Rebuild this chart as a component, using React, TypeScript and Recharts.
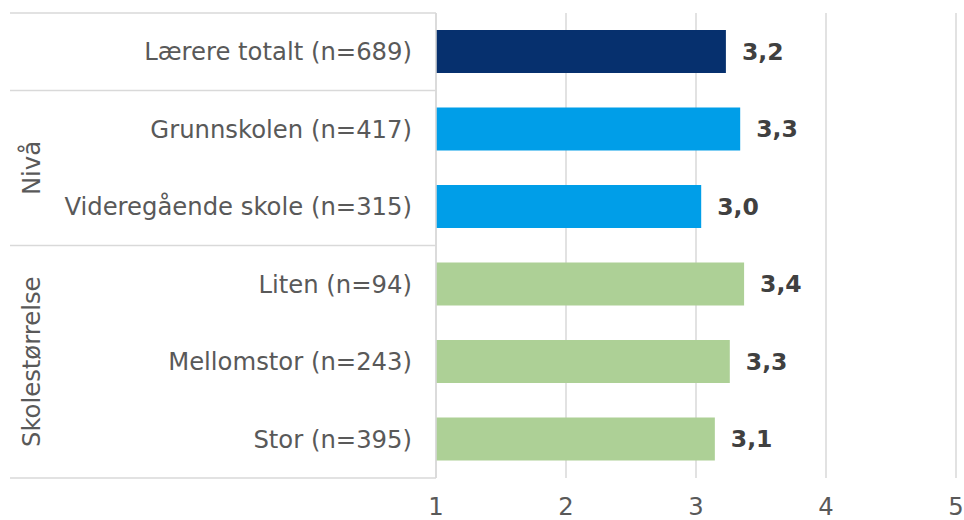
import { BarChart, Bar, XAxis, YAxis, CartesianGrid, Cell, LabelList } from 'recharts'

const CATEGORIES = [
  'Lærere totalt (n=689)',
  'Grunnskolen (n=417)',
  'Videregående skole (n=315)',
  'Liten (n=94)',
  'Mellomstor (n=243)',
  'Stor (n=395)',
]
const VALUES = [3.23, 3.34, 3.04, 3.37, 3.26, 3.145]
const COLORS = ['#06306E', '#009EE8', '#009EE8', '#ADD096', '#ADD096', '#ADD096']
const X_TICKS = [1, 2, 3, 4, 5]

// grupper på venstre side: første indeks + antall rader
const GROUPS = [
  { label: '', start: 0, count: 1 },
  { label: 'Nivå', start: 1, count: 2 },
  { label: 'Skolestørrelse', start: 3, count: 3 },
]

const data = CATEGORIES.map((name, i) => ({ name, value: VALUES[i] }))

const W = 964
const H = 520
const TOP = 13
const BOTTOM_AXIS = 42
const Y_WIDTH = 436
const ROW_H = (H - TOP - BOTTOM_AXIS) / CATEGORIES.length
const LINE = '#d9d9d9'
const TEXT = '#595959'
const FONT = 'DejaVu Sans, Verdana, sans-serif'
const FS = 24.3

// eslint-disable-next-line @typescript-eslint/no-explicit-any
function CategoryTick({ y, payload, index }: any) {
  const group = GROUPS.find(g => g.start === index)
  const top = y - ROW_H / 2
  const isLast = index === CATEGORIES.length - 1
  const gy = group ? top + (group.count * ROW_H) / 2 : 0
  return (
    <g>
      <text x={Y_WIDTH - 24} y={y} dy="0.355em" textAnchor="end" fontSize={FS} fill={TEXT} fontFamily={FONT}>
        {payload.value}
      </text>
      {group && <line x1={10} x2={Y_WIDTH} y1={top} y2={top} stroke={LINE} strokeWidth={1.5} />}
      {isLast && <line x1={10} x2={Y_WIDTH} y1={top + ROW_H} y2={top + ROW_H} stroke={LINE} strokeWidth={1.5} />}
      {group && group.label && (
        <text
          x={31}
          y={gy}
          dy="0.355em"
          textAnchor="middle"
          fontSize={FS}
          fill={TEXT}
          fontFamily={FONT}
          transform={`rotate(-90 31 ${gy})`}
        >
          {group.label}
        </text>
      )}
    </g>
  )
}

export default function App() {
  return (
    <div style={{ position: 'absolute', left: 0, top: 0, width: W, height: H, background: '#fff' }}>
      <BarChart
        width={W}
        height={H}
        data={data}
        layout="vertical"
        margin={{ top: TOP, right: 8, left: 0, bottom: 0 }}
        style={{ fontFamily: FONT }}
      >
        <CartesianGrid horizontal={false} stroke={LINE} strokeWidth={1.5} />
        <XAxis
          type="number"
          domain={[1, 5]}
          ticks={X_TICKS}
          height={BOTTOM_AXIS}
          axisLine={false}
          tickLine={false}
          tickMargin={14}
          tick={{ fontSize: FS, fill: TEXT, fontFamily: FONT }}
          interval={0}
          allowDataOverflow
        />
        <YAxis
          type="category"
          dataKey="name"
          width={Y_WIDTH}
          axisLine={{ stroke: LINE, strokeWidth: 1.5 }}
          tickLine={false}
          tick={<CategoryTick />}
          interval={0}
        />
        <Bar dataKey="value" barSize={43} isAnimationActive={false}>
          {data.map((d, i) => (
            <Cell key={d.name} fill={COLORS[i]} />
          ))}
          <LabelList
            dataKey="value"
            position="right"
            offset={16}
            formatter={(v: unknown) => Number(v).toFixed(1).replace('.', ',')}
            style={{ fontWeight: 'bold', fontSize: 23.5, fill: '#404040', fontFamily: FONT }}
          />
        </Bar>
      </BarChart>
    </div>
  )
}
